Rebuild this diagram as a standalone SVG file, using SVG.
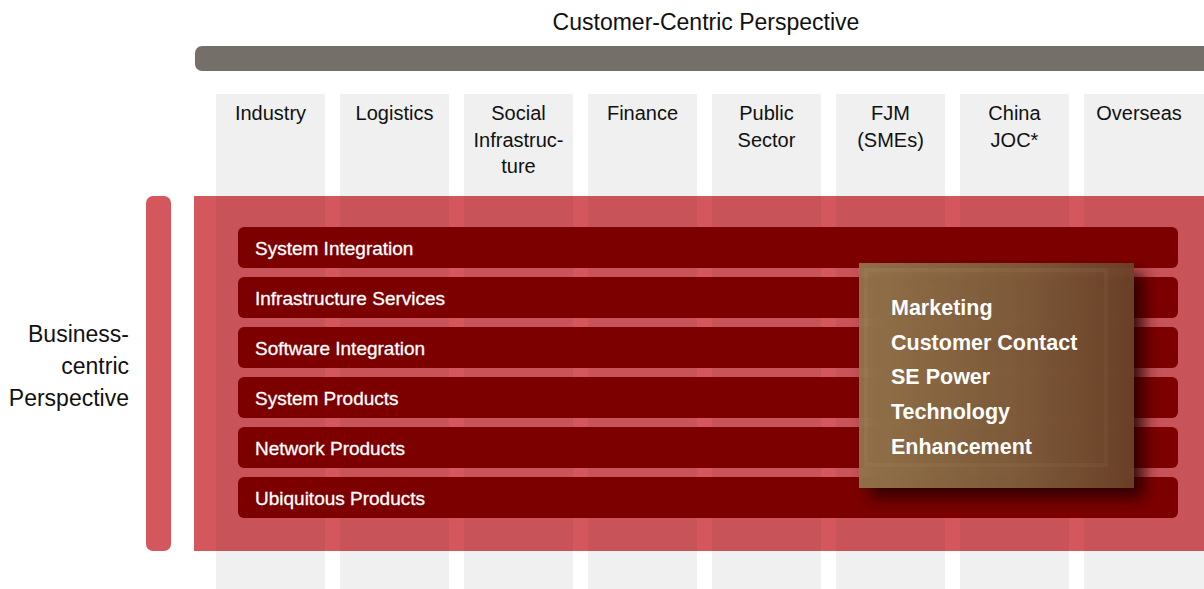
<svg xmlns="http://www.w3.org/2000/svg" width="1204" height="589" viewBox="0 0 1204 589">
<style>
.t{font-family:"Liberation Sans",Arial,sans-serif;fill:#111}
.col{fill:#eff0ef}
.colr{fill:#c85358}
.bar{fill:#7d0000}
.bt{font-family:"Liberation Sans",Arial,sans-serif;fill:#fff;font-size:19px;stroke:#fff;stroke-width:0.3}
.ct{font-family:"Liberation Sans",Arial,sans-serif;fill:#111;font-size:20px;text-anchor:middle}
.mt{font-family:"Liberation Sans",Arial,sans-serif;fill:#fff;font-size:21.5px;font-weight:bold}
</style>
<defs>
<linearGradient id="brown" x1="0" y1="0" x2="1" y2="0">
<stop offset="0" stop-color="#93744b"/>
<stop offset="0.6" stop-color="#7f5b3a"/>
<stop offset="1" stop-color="#6b4128"/>
</linearGradient>
<filter id="sh" x="-20%" y="-20%" width="150%" height="150%">
<feDropShadow dx="10" dy="10" stdDeviation="8" flood-color="#200000" flood-opacity="0.9"/>
</filter>
</defs>
<rect width="1204" height="589" fill="#fff"/>
<text class="t" x="706" y="30" font-size="23" text-anchor="middle">Customer-Centric Perspective</text>
<rect x="195" y="46" width="1030" height="25" rx="7" fill="#747069"/>
<g id="columns">
<g id="col-industry"><rect class="col" x="216" y="94" width="109" height="495"/><text class="ct" x="270.5" y="120">Industry</text></g>
<g id="col-logistics"><rect class="col" x="340" y="94" width="109" height="495"/><text class="ct" x="394.5" y="120">Logistics</text></g>
<g id="col-social"><rect class="col" x="464" y="94" width="109" height="495"/><text class="ct" x="518.5" y="120">Social</text><text class="ct" x="518.5" y="147">Infrastruc-</text><text class="ct" x="518.5" y="173">ture</text></g>
<g id="col-finance"><rect class="col" x="588" y="94" width="109" height="495"/><text class="ct" x="642.5" y="120">Finance</text></g>
<g id="col-public"><rect class="col" x="712" y="94" width="109" height="495"/><text class="ct" x="766.5" y="120">Public</text><text class="ct" x="766.5" y="147">Sector</text></g>
<g id="col-fjm"><rect class="col" x="836" y="94" width="109" height="495"/><text class="ct" x="890.5" y="120">FJM</text><text class="ct" x="890.5" y="147">(SMEs)</text></g>
<g id="col-china"><rect class="col" x="960" y="94" width="109" height="495"/><text class="ct" x="1014.5" y="120">China</text><text class="ct" x="1014.5" y="147">JOC*</text></g>
<g id="col-overseas"><rect class="col" x="1084" y="94" width="120" height="495"/><text class="ct" x="1139" y="120">Overseas</text></g>
</g>
<g id="business-area">
<rect x="194" y="196" width="1010" height="355" fill="#d4575d"/>
<rect class="colr" x="216" y="196" width="109" height="355"/>
<rect class="colr" x="340" y="196" width="109" height="355"/>
<rect class="colr" x="464" y="196" width="109" height="355"/>
<rect class="colr" x="588" y="196" width="109" height="355"/>
<rect class="colr" x="712" y="196" width="109" height="355"/>
<rect class="colr" x="836" y="196" width="109" height="355"/>
<rect class="colr" x="960" y="196" width="109" height="355"/>
<rect class="colr" x="1084" y="196" width="120" height="355"/>
</g>
<g id="business-label">
<rect x="146" y="196" width="25" height="355" rx="7" fill="#d4575d"/>
<text class="t" font-size="23" text-anchor="end" x="129" y="342">Business-</text>
<text class="t" font-size="23" text-anchor="end" x="129" y="374">centric</text>
<text class="t" font-size="23" text-anchor="end" x="129" y="406">Perspective</text>
</g>
<g id="bar-si"><rect class="bar" x="238" y="227" width="940" height="41" rx="6"/><text class="bt" x="255" y="255">System Integration</text></g>
<g id="bar-is"><rect class="bar" x="238" y="277" width="940" height="41" rx="6"/><text class="bt" x="255" y="305">Infrastructure Services</text></g>
<g id="bar-sw"><rect class="bar" x="238" y="327" width="940" height="41" rx="6"/><text class="bt" x="255" y="355">Software Integration</text></g>
<g id="bar-sp"><rect class="bar" x="238" y="377" width="940" height="41" rx="6"/><text class="bt" x="255" y="405">System Products</text></g>
<g id="bar-np"><rect class="bar" x="238" y="427" width="940" height="41" rx="6"/><text class="bt" x="255" y="455">Network Products</text></g>
<g id="bar-up"><rect class="bar" x="238" y="477" width="940" height="41" rx="6"/><text class="bt" x="255" y="505">Ubiquitous Products</text></g>
<g id="strengths">
<rect x="859" y="263" width="275" height="225" fill="url(#brown)" fill-opacity="0.94" filter="url(#sh)"/>
<rect x="866" y="270" width="240" height="195" fill="none" stroke="#fff" stroke-opacity="0.04" stroke-width="4"/>
<text class="mt" x="891" y="315">Marketing</text>
<text class="mt" x="891" y="350">Customer Contact</text>
<text class="mt" x="891" y="384">SE Power</text>
<text class="mt" x="891" y="419">Technology</text>
<text class="mt" x="891" y="454">Enhancement</text>
</g>
</svg>
